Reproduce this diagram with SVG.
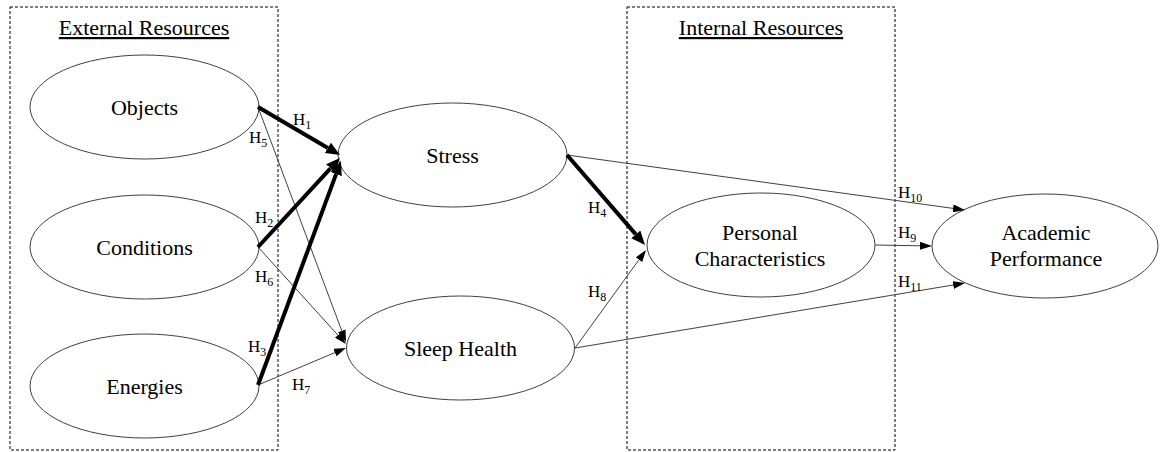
<svg xmlns="http://www.w3.org/2000/svg" width="1160" height="452" viewBox="0 0 1160 452" font-family="'Liberation Serif', 'Times New Roman', serif">
<style>
.box{fill:none;stroke:#000;stroke-width:1;stroke-dasharray:3,2}
.node{fill:#fff;stroke:#404040;stroke-width:1}
.nt{font-family:'Liberation Serif','Times New Roman',serif;font-size:22px;fill:#000;text-anchor:middle}
.title{font-family:'Liberation Serif','Times New Roman',serif;font-size:22px;fill:#000;text-anchor:middle;text-decoration:underline}
.thick{stroke:#000;stroke-width:4;fill:none}
.thin{stroke:#404040;stroke-width:1;fill:none}
.h{font-family:'Liberation Serif','Times New Roman',serif;font-size:17px;fill:#000}
.s{font-size:12px}
</style>
<defs>
<marker id="ak" markerUnits="userSpaceOnUse" markerWidth="14" markerHeight="12" refX="0" refY="6" orient="auto"><path d="M0,0 L14,6 L0,12 z" fill="#000"/></marker>
<marker id="an" markerUnits="userSpaceOnUse" markerWidth="12" markerHeight="8" refX="0" refY="4" orient="auto"><path d="M0,0 L12,4 L0,8 z" fill="#000"/></marker>
</defs>
<rect width="1160" height="452" fill="#fff"/>
<g id="external-resources">
<rect class="box" x="10" y="7" width="268" height="443"/>
<text class="title" x="144" y="35">External Resources</text>
</g>
<g id="internal-resources">
<rect class="box" x="627" y="7" width="268" height="443"/>
<text class="title" x="761" y="35">Internal Resources</text>
</g>
<g id="objects"><ellipse class="node" cx="144.5" cy="107" rx="114.5" ry="52"/><text class="nt" font-family="'Liberation Serif', serif" x="144.5" y="115">Objects</text></g>
<g id="conditions"><ellipse class="node" cx="144.5" cy="247" rx="114.5" ry="52"/><text class="nt" font-family="'Liberation Serif', serif" x="144.5" y="255">Conditions</text></g>
<g id="energies"><ellipse class="node" cx="144.5" cy="386" rx="114.5" ry="52"/><text class="nt" font-family="'Liberation Serif', serif" x="144.5" y="394">Energies</text></g>
<g id="stress"><ellipse class="node" cx="452.5" cy="155" rx="114.5" ry="52"/><text class="nt" font-family="'Liberation Serif', serif" x="452.5" y="163">Stress</text></g>
<g id="sleep-health"><ellipse class="node" cx="460.5" cy="348" rx="114" ry="52"/><text class="nt" font-family="'Liberation Serif', serif" x="460.5" y="356">Sleep Health</text></g>
<g id="personal-characteristics"><ellipse class="node" cx="761" cy="245" rx="114" ry="52"/><text class="nt" font-family="'Liberation Serif', serif" x="760" y="240">Personal</text><text class="nt" font-family="'Liberation Serif', serif" x="760" y="266">Characteristics</text></g>
<g id="academic-performance"><ellipse class="node" cx="1045" cy="246" rx="113" ry="52"/><text class="nt" font-family="'Liberation Serif', serif" x="1046" y="240">Academic</text><text class="nt" font-family="'Liberation Serif', serif" x="1046" y="266">Performance</text></g>
<g id="connectors">
<line class="thin" x1="258" y1="107" x2="341.8" y2="330.8" marker-end="url(#an)"/>
<line class="thin" x1="258" y1="247" x2="337.9" y2="335.1" marker-end="url(#an)"/>
<line class="thin" x1="258" y1="385" x2="334.9" y2="352.6" marker-end="url(#an)"/>
<line class="thin" x1="575" y1="348" x2="639" y2="259.7" marker-end="url(#an)"/>
<line class="thin" x1="875" y1="245" x2="920" y2="245.8" marker-end="url(#an)"/>
<line class="thin" x1="567" y1="155" x2="953.1" y2="208.4" marker-end="url(#an)"/>
<line class="thin" x1="575" y1="348" x2="953.2" y2="285" marker-end="url(#an)"/>
<line class="thick" x1="258" y1="107" x2="327.9" y2="147.9" marker-end="url(#ak)"/>
<line class="thick" x1="258" y1="247" x2="330.5" y2="168.3" marker-end="url(#ak)"/>
<line class="thick" x1="258" y1="385" x2="336.1" y2="174.1" marker-end="url(#ak)"/>
<line class="thick" x1="567" y1="155" x2="635.8" y2="234.4" marker-end="url(#ak)"/>
</g>
<g id="labels">
<text class="h" x="293" y="125">H<tspan class="s" dy="4">1</tspan></text>
<text class="h" x="255" y="223">H<tspan class="s" dy="4">2</tspan></text>
<text class="h" x="248" y="352">H<tspan class="s" dy="4">3</tspan></text>
<text class="h" x="588" y="213">H<tspan class="s" dy="4">4</tspan></text>
<text class="h" x="249" y="143">H<tspan class="s" dy="4">5</tspan></text>
<text class="h" x="255" y="282">H<tspan class="s" dy="4">6</tspan></text>
<text class="h" x="292" y="390">H<tspan class="s" dy="4">7</tspan></text>
<text class="h" x="588" y="297">H<tspan class="s" dy="4">8</tspan></text>
<text class="h" x="898" y="238">H<tspan class="s" dy="4">9</tspan></text>
<text class="h" x="898" y="198">H<tspan class="s" dy="4">10</tspan></text>
<text class="h" x="898" y="287">H<tspan class="s" dy="4">11</tspan></text>
</g>
</svg>
